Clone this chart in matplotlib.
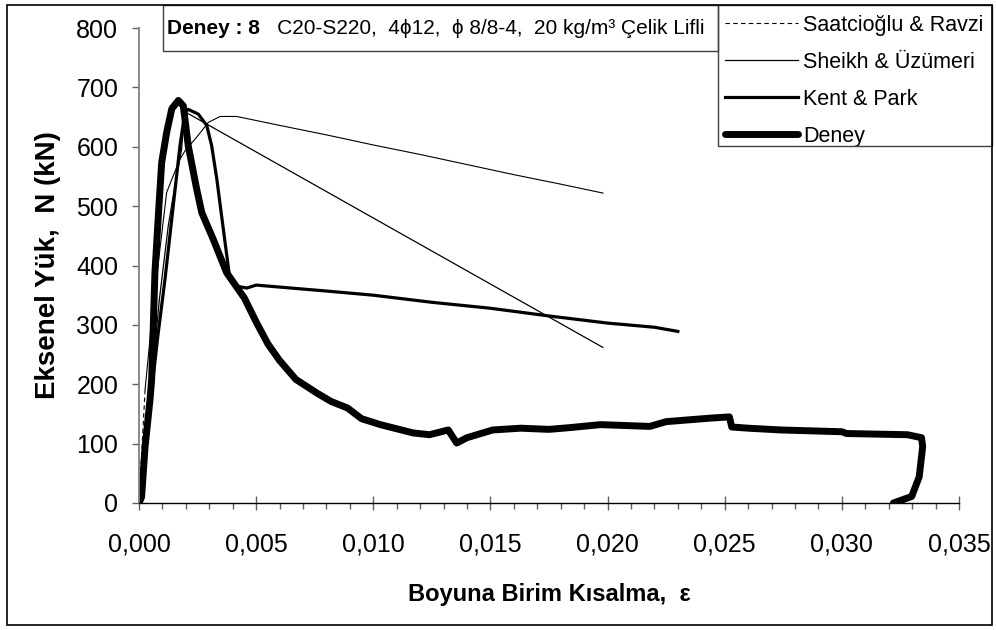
import matplotlib
matplotlib.use('Agg')
import matplotlib.pyplot as plt
from matplotlib.lines import Line2D
from matplotlib.patches import Rectangle
from matplotlib.ticker import MultipleLocator

plt.rcParams['font.family'] = ['Liberation Sans', 'DejaVu Sans']

# Saatcioglu & Ravzi model
sr_eps = [0.0, 0.00026, 0.0006, 0.0009, 0.00118, 0.0015, 0.00175, 0.00196, 0.00246,
          0.00296, 0.00346, 0.00417, 0.006, 0.008, 0.010, 0.012, 0.014, 0.016, 0.018, 0.0198]
sr_N = [0, 191, 330, 430, 523, 555, 579, 593, 616,
        641, 651, 651, 636, 620, 603, 587, 570, 553, 537, 522]

# Sheikh & Uzumeri model
sh_eps = [0.0, 0.0003, 0.0006, 0.00087, 0.00125, 0.0016, 0.00182, 0.0019, 0.002, 0.0198]
sh_N = [0, 110, 230, 343, 467, 550, 596, 641, 658, 262]

# Kent & Park model
kp_eps = [0.0, 0.0004, 0.0008, 0.00111, 0.00146, 0.00175, 0.00196, 0.0021, 0.00253,
          0.00289, 0.0031, 0.00332, 0.0036, 0.00388, 0.0042, 0.0046, 0.005, 0.008,
          0.010, 0.0125, 0.015, 0.0175, 0.020, 0.022, 0.023]
kp_N = [0, 140, 280, 377, 500, 602, 658, 663, 655,
        636, 602, 546, 461, 377, 365, 362, 367, 357,
        350, 338, 328, 315, 303, 296, 289]

# test (Deney)
deney_eps = [0.0, 0.00011, 0.00026, 0.00047, 0.00054, 0.00068, 0.00085, 0.00097, 0.00118,
             0.0014, 0.00168, 0.00189, 0.0021, 0.00246, 0.00268, 0.00317, 0.00374, 0.0045,
             0.005, 0.0055, 0.006, 0.0067, 0.0076, 0.0082, 0.0089, 0.0095, 0.0103, 0.0117,
             0.0124, 0.0132, 0.01356, 0.0140, 0.0151, 0.0163, 0.0175, 0.0184, 0.0197,
             0.0218, 0.0225, 0.0244, 0.0252, 0.0253, 0.0260, 0.0274, 0.0300, 0.0302,
             0.0328, 0.0334, 0.03345, 0.0333, 0.03298, 0.0322]
deney_N = [0, 10, 95, 174, 208, 388, 500, 574, 624,
           664, 678, 669, 602, 529, 489, 444, 388, 345,
           305, 268, 240, 208, 185, 171, 160, 142, 132, 118,
           115, 123, 101, 110, 123, 126, 124, 127, 132,
           129, 137, 143, 145, 128, 126, 123, 120, 117,
           115, 110, 95, 44, 11, 0]

x_ticks = [0.0, 0.005, 0.010, 0.015, 0.020, 0.025, 0.030, 0.035]
x_tick_labels = ['0,000', '0,005', '0,010', '0,015', '0,020', '0,025', '0,030', '0,035']
y_ticks = [0, 100, 200, 300, 400, 500, 600, 700, 800]

series_labels = ['Saatcioğlu & Ravzi', 'Sheikh & Üzümeri', 'Kent & Park', 'Deney']

W, H = 996, 630
fig = plt.figure(figsize=(9.96, 6.3), dpi=100)
ax = fig.add_axes([139 / W, 1 - 503 / H, 820 / W, 475 / H])

# dashed only on the first (long) segment, like the excel rendering
ax.plot(sr_eps[:2], sr_N[:2], color='black', lw=0.8, dashes=(4, 3))
ax.plot(sr_eps[1:], sr_N[1:], color='black', lw=0.8)
ax.plot(sh_eps, sh_N, color='black', lw=0.9)
ax.plot(kp_eps, kp_N, color='black', lw=2.3, solid_joinstyle='round')
ax.plot(deney_eps, deney_N, color='black', lw=5, solid_joinstyle='round', solid_capstyle='round')

ax.set_xlim(0, 0.035)
ax.set_ylim(0, 800)
ax.set_xticks(x_ticks)
ax.set_xticklabels(x_tick_labels)
ax.set_yticks(y_ticks)
ax.xaxis.set_minor_locator(MultipleLocator(0.001))

ax.spines['top'].set_visible(False)
ax.spines['right'].set_visible(False)
ax.spines['left'].set_color('#808080')
ax.spines['left'].set_linewidth(1.3)
ax.spines['bottom'].set_linewidth(1)

ax.tick_params(axis='y', direction='out', length=5, width=1, color='#606060', labelsize=18, pad=10)
ax.tick_params(axis='x', which='major', direction='inout', length=10, width=1, color='#606060',
               labelsize=18, pad=16)
ax.tick_params(axis='x', which='minor', direction='out', length=4.5, width=1, color='#606060')

fig.text(48 / W, 1 - 265 / H, 'Eksenel Yük,  N (kN)', rotation=90, ha='center', va='center',
         fontsize=20, fontweight='bold')
fig.text(549 / W, 1 - 594 / H, 'Boyuna Birim Kısalma,  ε', ha='center', va='center',
         fontsize=17, fontweight='bold')

# legend (frame drawn separately, the box is flush with the figure border)
handles = [Line2D([], [], color='black', lw=0.8, dashes=(4, 3)),
           Line2D([], [], color='black', lw=0.9),
           Line2D([], [], color='black', lw=2.3),
           Line2D([], [], color='black', lw=5, solid_capstyle='round')]
ax.legend(handles, series_labels, loc='upper left', bbox_to_anchor=(725 / W, 1 - 15 / H),
          bbox_transform=fig.transFigure, borderaxespad=0, borderpad=0, frameon=False,
          fontsize=15.5, handlelength=3.4, handletextpad=0.22, labelspacing=0.74)
fig.add_artist(Rectangle((718 / W, 1 - 146 / H), (992 - 718) / W, 141 / H,
                         transform=fig.transFigure, fill=False, edgecolor='#404040', lw=1))

# title box
fig.add_artist(Rectangle((163 / W, 1 - 51 / H), (718 - 163) / W, 46 / H,
                         transform=fig.transFigure, fill=False, edgecolor='#404040', lw=1))
t1 = fig.text(167 / W, 1 - 29 / H, 'Deney : 8', fontsize=15, fontweight='bold', va='center')
ax.annotate('   C20-S220,  4ϕ12,  ϕ 8/8-4,  20 kg/m³ Çelik Lifli', xy=(1, 0), xycoords=t1,
            va='bottom', fontsize=15)

# outer border
fig.add_artist(Rectangle((7 / W, 1 - 625 / H), (992 - 7) / W, 620 / H,
                         transform=fig.transFigure, fill=False, edgecolor='black', lw=1.2))

fig.savefig('out.png', dpi=100)
plt.close(fig)
